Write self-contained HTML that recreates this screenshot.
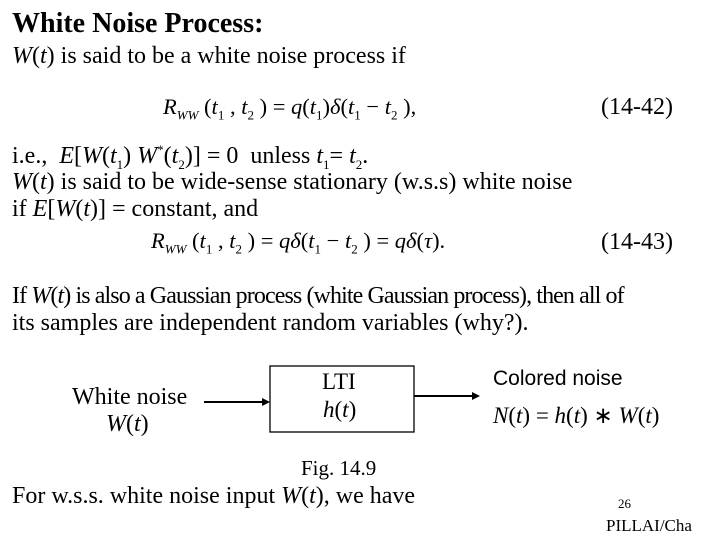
<!DOCTYPE html>
<html><head><style>
body{margin:0;width:720px;height:540px;background:#fff;position:relative;overflow:hidden;font-family:"Liberation Serif",serif;color:#000}
.t{position:absolute;white-space:nowrap;font-size:24px;line-height:26px}
i{font-style:italic}
sub,sup{line-height:0;font-size:13px}
</style></head><body>
<div class="t" style="left:12px;top:9px;font-weight:bold;font-size:28px;line-height:30px">White Noise Process:</div>
<div class="t" style="left:12px;top:43px"><i>W</i>(<i>t</i>) is said to be a white noise process if</div>
<div class="t" style="left:163px;top:94px;font-size:22.5px"><i>R</i><sub><i>WW</i></sub> (<i>t</i><sub>1</sub> , <i>t</i><sub>2</sub> ) = <i>q</i>(<i>t</i><sub>1</sub>)<i>δ</i>(<i>t</i><sub>1</sub> − <i>t</i><sub>2</sub> ),</div>
<div class="t" style="left:601px;top:94px">(14-42)</div>
<div class="t" style="left:12px;top:143px">i.e., &nbsp;<i>E</i>[<i>W</i>(<i>t</i><sub>1</sub>) <i>W</i><sup>*</sup>(<i>t</i><sub>2</sub>)] = 0 &nbsp;unless <i>t</i><sub>1</sub>= <i>t</i><sub>2</sub>.</div>
<div class="t" style="left:12px;top:169px"><i>W</i>(<i>t</i>) is said to be wide-sense stationary (w.s.s) white noise</div>
<div class="t" style="left:12px;top:196px">if <i>E</i>[<i>W</i>(<i>t</i>)] = constant, and</div>
<div class="t" style="left:151px;top:228px;font-size:22.5px"><i>R</i><sub><i>WW</i></sub> (<i>t</i><sub>1</sub> , <i>t</i><sub>2</sub> ) = <i>qδ</i>(<i>t</i><sub>1</sub> − <i>t</i><sub>2</sub> ) = <i>qδ</i>(<i>τ</i>).</div>
<div class="t" style="left:601px;top:229px">(14-43)</div>
<div class="t" style="left:12px;top:283px;letter-spacing:-0.9px">If <i>W</i>(<i>t</i>) is also a Gaussian process (white Gaussian process), then all of</div>
<div class="t" style="left:12px;top:310px">its samples are independent random variables (why?).</div>
<div class="t" style="left:72px;top:384px">White noise</div>
<div class="t" style="left:106px;top:411px"><i>W</i>(<i>t</i>)</div>
<svg style="position:absolute;left:0;top:0" width="720" height="540">
<rect x="270" y="366" width="144" height="66" fill="none" stroke="#000" stroke-width="1.3"/>
<line x1="204" y1="402" x2="263" y2="402" stroke="#000" stroke-width="2"/>
<polygon points="270,402 262,398 262,406" fill="#000"/>
<line x1="414" y1="396" x2="473" y2="396" stroke="#000" stroke-width="2"/>
<polygon points="480,396 472,392 472,400" fill="#000"/>
</svg>
<div class="t" style="left:322px;top:369px;font-size:23px">LTI</div>
<div class="t" style="left:323px;top:397px;font-size:23px"><i>h</i>(<i>t</i>)</div>
<div class="t" style="left:493px;top:366px;font-size:21px;font-family:'Liberation Sans',sans-serif">Colored noise</div>
<div class="t" style="left:493px;top:403px;font-size:23px"><i>N</i>(<i>t</i>) = <i>h</i>(<i>t</i>) ∗ <i>W</i>(<i>t</i>)</div>
<div class="t" style="left:301px;top:456px;font-size:21px;line-height:24px">Fig. 14.9</div>
<div class="t" style="left:12px;top:483px">For w.s.s. white noise input <i>W</i>(<i>t</i>), we have</div>
<div class="t" style="left:618px;top:496px;font-size:13px;line-height:16px">26</div>
<div class="t" style="left:606px;top:516px;font-size:17px;line-height:20px">PILLAI/Cha</div>
</body></html>
